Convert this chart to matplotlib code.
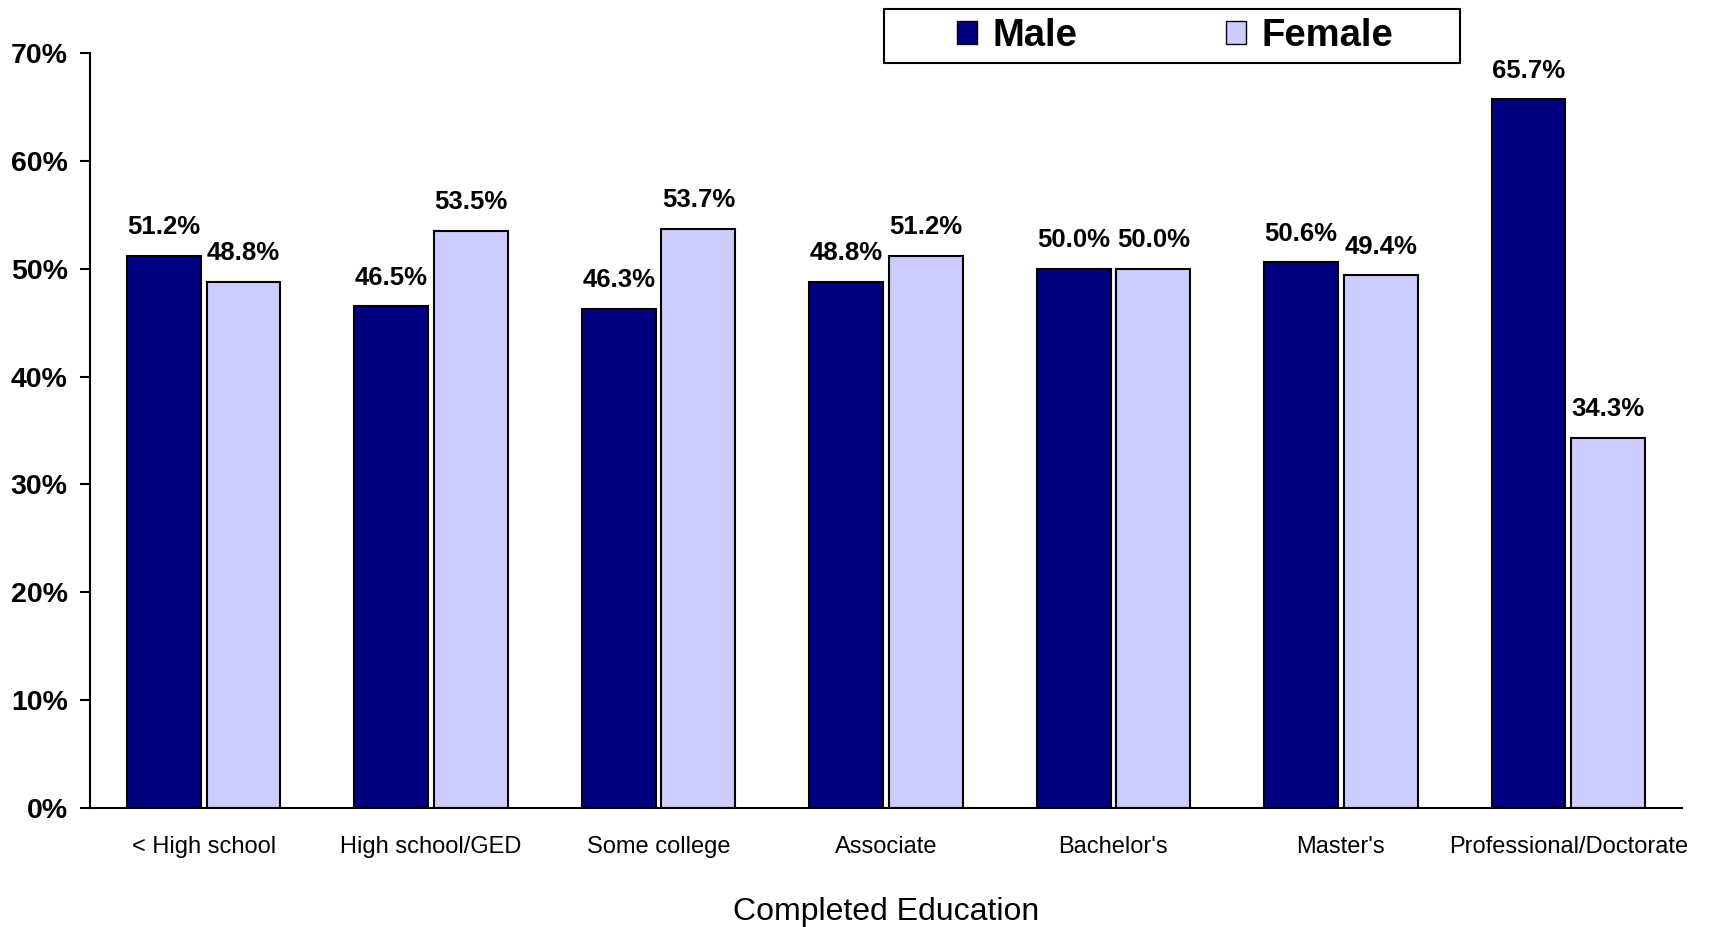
import numpy as np
import matplotlib
matplotlib.use("Agg")
import matplotlib.pyplot as plt
from matplotlib.patches import Patch, Rectangle
from matplotlib.ticker import FuncFormatter

plt.rcParams['font.family'] = ['Liberation Sans', 'DejaVu Sans']

categories = ['< High school', 'High school/GED', 'Some college', 'Associate',
              "Bachelor's", "Master's", 'Professional/Doctorate']
male = [51.2, 46.5, 46.3, 48.8, 50.0, 50.6, 65.7]
female = [48.8, 53.5, 53.7, 51.2, 50.0, 49.4, 34.3]
yticks = [0, 10, 20, 30, 40, 50, 60, 70]

male_color = '#000080'
female_color = '#CCCCFF'

W, H = 1711, 927
fig = plt.figure(figsize=(W / 100, H / 100), dpi=100)
ax = fig.add_axes([90 / W, 1 - 808 / H, (1682 - 90) / W, (808 - 53) / H])

x = np.arange(len(categories))
w = 0.325
off = 0.175
b1 = ax.bar(x - off, male, w, color=male_color, edgecolor='black', linewidth=1.5)
b2 = ax.bar(x + off, female, w, color=female_color, edgecolor='black', linewidth=1.5)

for bars, vals in [(b1, male), (b2, female)]:
    for r, v in zip(bars, vals):
        ax.annotate(f'{v:.1f}%', (r.get_x() + r.get_width() / 2, v),
                    xytext=(0, 12), textcoords='offset points',
                    ha='center', va='bottom', fontsize=18.5, fontweight='bold')

ax.set_xlim(-0.5, len(categories) - 0.5)
ax.set_ylim(0, 70)
ax.set_yticks(yticks)
ax.yaxis.set_major_formatter(FuncFormatter(lambda v, p: f'{v:.0f}%'))
for lab in ax.get_yticklabels():
    lab.set_fontweight('bold')
ax.tick_params(axis='y', labelsize=20.5, length=7, width=1.5, pad=9)
ax.set_xticks(x)
ax.set_xticklabels(categories, fontsize=17)
ax.tick_params(axis='x', length=0, pad=20)
ax.set_xlabel('Completed Education', fontsize=23, labelpad=28)

ax.spines['top'].set_visible(False)
ax.spines['right'].set_visible(False)
ax.spines['left'].set_linewidth(1.5)
ax.spines['bottom'].set_linewidth(1.5)

# legend box drawn separately, legend entries inside it
fig.patches.append(Rectangle((884 / W, 1 - 63 / H), 576 / W, 54 / H,
                             transform=fig.transFigure, facecolor='white',
                             edgecolor='black', linewidth=1.5, zorder=0))

handles = [Patch(facecolor=male_color, edgecolor='black', label='Male'),
           Patch(facecolor=female_color, edgecolor='black', label='Female')]
leg = fig.legend(handles=handles, ncol=2, loc='center',
                 bbox_to_anchor=(1175 / W, 1 - 36 / H),
                 prop={'size': 27.5, 'weight': 'bold'},
                 frameon=False, handlelength=0.52, handleheight=0.52,
                 handletextpad=0.4, columnspacing=3.9, borderpad=0.1)

fig.savefig('out.png', dpi=100)
